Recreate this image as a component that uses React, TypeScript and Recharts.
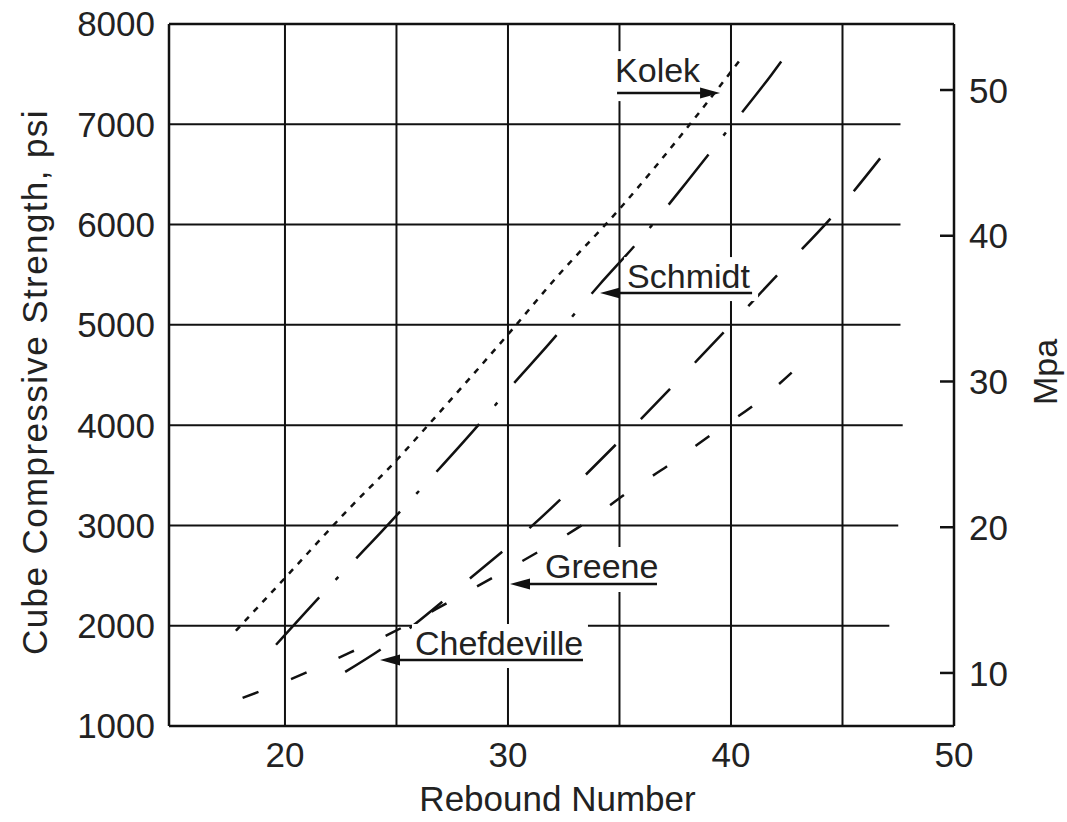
import React from 'react'
import {
  LineChart,
  Line,
  XAxis,
  YAxis,
  CartesianGrid,
  ReferenceLine,
  ReferenceDot,
} from 'recharts'

const FONT = '"Liberation Sans", Arial, Helvetica, sans-serif'
const INK = '#111'
const TEXT = '#222'

// rebound number vs cube strength (psi)
const kolekRebound = [17.8, 20.1, 22.8, 25.0, 26.5, 30.1, 32.2, 34.9, 38.3, 40.4]
const kolekPsi = [1950, 2500, 3150, 3650, 4020, 4930, 5480, 6130, 7040, 7640]

const schmidtRebound = [19.6, 21.9, 24.3, 26.2, 28.9, 30.0, 31.8, 34.1, 35.8, 38.0, 39.6, 41.8, 42.5]
const schmidtPsi = [1810, 2370, 2930, 3390, 4060, 4350, 4800, 5400, 5820, 6420, 6870, 7490, 7700]

const greeneRebound = [18.1, 20.4, 22.5, 24.8, 27.3, 29.4, 31.5, 33.5, 35.5, 37.4, 39.2, 41.2, 43.0]
const greenePsi = [1280, 1480, 1690, 1930, 2230, 2490, 2755, 3030, 3350, 3630, 3920, 4230, 4580]

const chefdevilleRebound = [22.7, 24.4, 28.4, 31.0, 34.9, 38.5, 42.3, 44.7, 46.9]
const chefdevillePsi = [1540, 1780, 2490, 2980, 3820, 4650, 5550, 6120, 6720]

const reboundTicks = [20, 25, 30, 35, 40, 45, 50]
const reboundLabelled = [20, 30, 40, 50]
const psiTicks = [1000, 2000, 3000, 4000, 5000, 6000, 7000, 8000]
const mpaTicks = [10, 20, 30, 40, 50]

// horizontal rules stop short of the right axis (rebound value where each ends)
const psiRules = [2000, 3000, 4000, 5000, 6000, 7000]
const psiRuleEnds = [47.1, 47.5, 47.7, 47.6, 47.6, 47.6]

const X_DOMAIN: [number, number] = [14.8, 50]
const PSI_DOMAIN: [number, number] = [1000, 8000]
const MPA_DOMAIN: [number, number] = [6.36, 54.53]

const toPoints = (xs: number[], ys: number[]) => xs.map((x, i) => ({ x, y: ys[i] }))

const series = [
  { name: 'Kolek', data: toPoints(kolekRebound, kolekPsi), dash: '6 7' },
  { name: 'Schmidt', data: toPoints(schmidtRebound, schmidtPsi), dash: '64 24 4 26' },
  { name: 'Greene', data: toPoints(greeneRebound, greenePsi), dash: '17 35' },
  { name: 'Chefdeville', data: toPoints(chefdevilleRebound, chefdevillePsi), dash: '42 36' },
]

// arrow tips in data units, the rest in px relative to the tip
const callouts = [
  { text: 'Kolek', x: 39.51, y: 7311, side: 'right', shaft: 103, textDx: -105, baseDy: -11, box: [-110, -15] },
  { text: 'Schmidt', x: 34.13, y: 5317, side: 'left', shaft: 152, textDx: 27, baseDy: -5, box: [24, 158] },
  { text: 'Greene', x: 30.09, y: 2416, side: 'left', shaft: 147, textDx: 35, baseDy: -6, box: [30, 150] },
  { text: 'Chefdeville', x: 24.26, y: 1658, side: 'left', shaft: 203, textDx: 35, baseDy: -5, box: [32, 208] },
]

const renderCallout = (c: typeof callouts[number]) => (props: any) => {
  const { cx, cy } = props
  const s = c.side === 'right' ? -1 : 1
  const top = cy + c.baseDy - 31
  return (
    <g>
      <rect x={cx + c.box[0]} y={top} width={c.box[1] - c.box[0]} height={cy + 8 - top} fill="#fff" />
      <text x={cx + c.textDx} y={cy + c.baseDy} fill={TEXT} fontSize={34} fontFamily={FONT}>
        {c.text}
      </text>
      <line x1={cx + s * 16} x2={cx + s * c.shaft} y1={cy} y2={cy} stroke={INK} strokeWidth={2.5} />
      <polygon
        points={`${cx},${cy} ${cx + s * 20},${cy - 5.5} ${cx + s * 20},${cy + 5.5}`}
        fill={INK}
      />
    </g>
  )
}

const MpaTick = (props: any) => {
  const { x, y, payload } = props
  return (
    <g>
      <line x1={x - 15} x2={x - 29} y1={y} y2={y} stroke={INK} strokeWidth={2.5} />
      <text x={x} y={y} dy="0.36em" fill={TEXT} fontSize={35} fontFamily={FONT}>
        {payload.value}
      </text>
    </g>
  )
}

const tickStyle = { fill: TEXT, fontSize: 35, fontFamily: FONT }

export default function App() {
  // body margin dropped so the svg can use the full window height
  return (
    <div style={{ fontFamily: FONT, paddingLeft: 8 }}>
      <style>{'body { margin: 0; overflow: hidden; }'}</style>
      <LineChart width={1059} height={822} margin={{ top: 24, right: 0, left: 0, bottom: 0 }}>
        <CartesianGrid yAxisId="psi" horizontal={false} stroke={INK} strokeWidth={2} />
        <XAxis
          type="number"
          dataKey="x"
          domain={X_DOMAIN}
          allowDataOverflow
          ticks={reboundTicks}
          interval={0}
          tickFormatter={(v: number) => (reboundLabelled.includes(v) ? String(v) : '')}
          tick={tickStyle}
          tickLine={false}
          tickSize={0}
          tickMargin={16}
          height={96}
          axisLine={{ stroke: INK, strokeWidth: 2.5 }}
          label={{
            content: ({ viewBox }: any) => (
              <text
                x={viewBox.x + viewBox.width / 2 - 4}
                y={viewBox.y + viewBox.height - 11}
                textAnchor="middle"
                fill={TEXT}
                fontSize={35}
                fontFamily={FONT}
              >
                Rebound Number
              </text>
            ),
          }}
        />
        <YAxis
          yAxisId="psi"
          type="number"
          domain={PSI_DOMAIN}
          allowDataOverflow
          ticks={psiTicks}
          interval={0}
          tick={tickStyle}
          tickLine={false}
          tickSize={0}
          tickMargin={14}
          width={161}
          axisLine={{ stroke: INK, strokeWidth: 2.5 }}
          label={{
            content: ({ viewBox }: any) => {
              const lx = viewBox.x + 26
              const ly = viewBox.y + viewBox.height / 2 + 7
              return (
                <text
                  x={lx}
                  y={ly}
                  dy="0.36em"
                  transform={`rotate(-90, ${lx}, ${ly})`}
                  textAnchor="middle"
                  fill={TEXT}
                  fontSize={35}
                  letterSpacing={1.4}
                  fontFamily={FONT}
                >
                  Cube Compressive Strength, psi
                </text>
              )
            },
          }}
        />
        <YAxis
          yAxisId="mpa"
          orientation="right"
          type="number"
          domain={MPA_DOMAIN}
          allowDataOverflow
          ticks={mpaTicks}
          interval={0}
          tick={<MpaTick />}
          tickLine={false}
          tickSize={0}
          tickMargin={15}
          width={113}
          axisLine={{ stroke: INK, strokeWidth: 2.5 }}
          label={{
            content: ({ viewBox }: any) => {
              const lx = viewBox.x + viewBox.width - 22
              const ly = viewBox.y + viewBox.height / 2 - 3
              return (
                <text
                  x={lx}
                  y={ly}
                  dy="0.36em"
                  transform={`rotate(-90, ${lx}, ${ly})`}
                  textAnchor="middle"
                  fill={TEXT}
                  fontSize={34}
                  fontFamily={FONT}
                >
                  Mpa
                </text>
              )
            },
          }}
        />

        <ReferenceLine
          yAxisId="psi"
          y={8000}
          stroke={INK}
          strokeWidth={2.5}
          ifOverflow="visible"
        />
        {psiRules.map((v, i) => (
          <ReferenceLine
            key={v}
            yAxisId="psi"
            segment={[
              { x: X_DOMAIN[0], y: v },
              { x: psiRuleEnds[i], y: v },
            ]}
            stroke={INK}
            strokeWidth={2}
            ifOverflow="visible"
          />
        ))}

        {series.map((s) => (
          <Line
            key={s.name}
            yAxisId="psi"
            name={s.name}
            data={s.data}
            dataKey="y"
            type="monotone"
            stroke={INK}
            strokeWidth={2.5}
            strokeDasharray={s.dash}
            dot={false}
            activeDot={false}
            isAnimationActive={false}
          />
        ))}

        {callouts.map((c) => (
          <ReferenceDot
            key={c.text}
            yAxisId="psi"
            x={c.x}
            y={c.y}
            r={1}
            ifOverflow="visible"
            shape={renderCallout(c)}
          />
        ))}
      </LineChart>
    </div>
  )
}
